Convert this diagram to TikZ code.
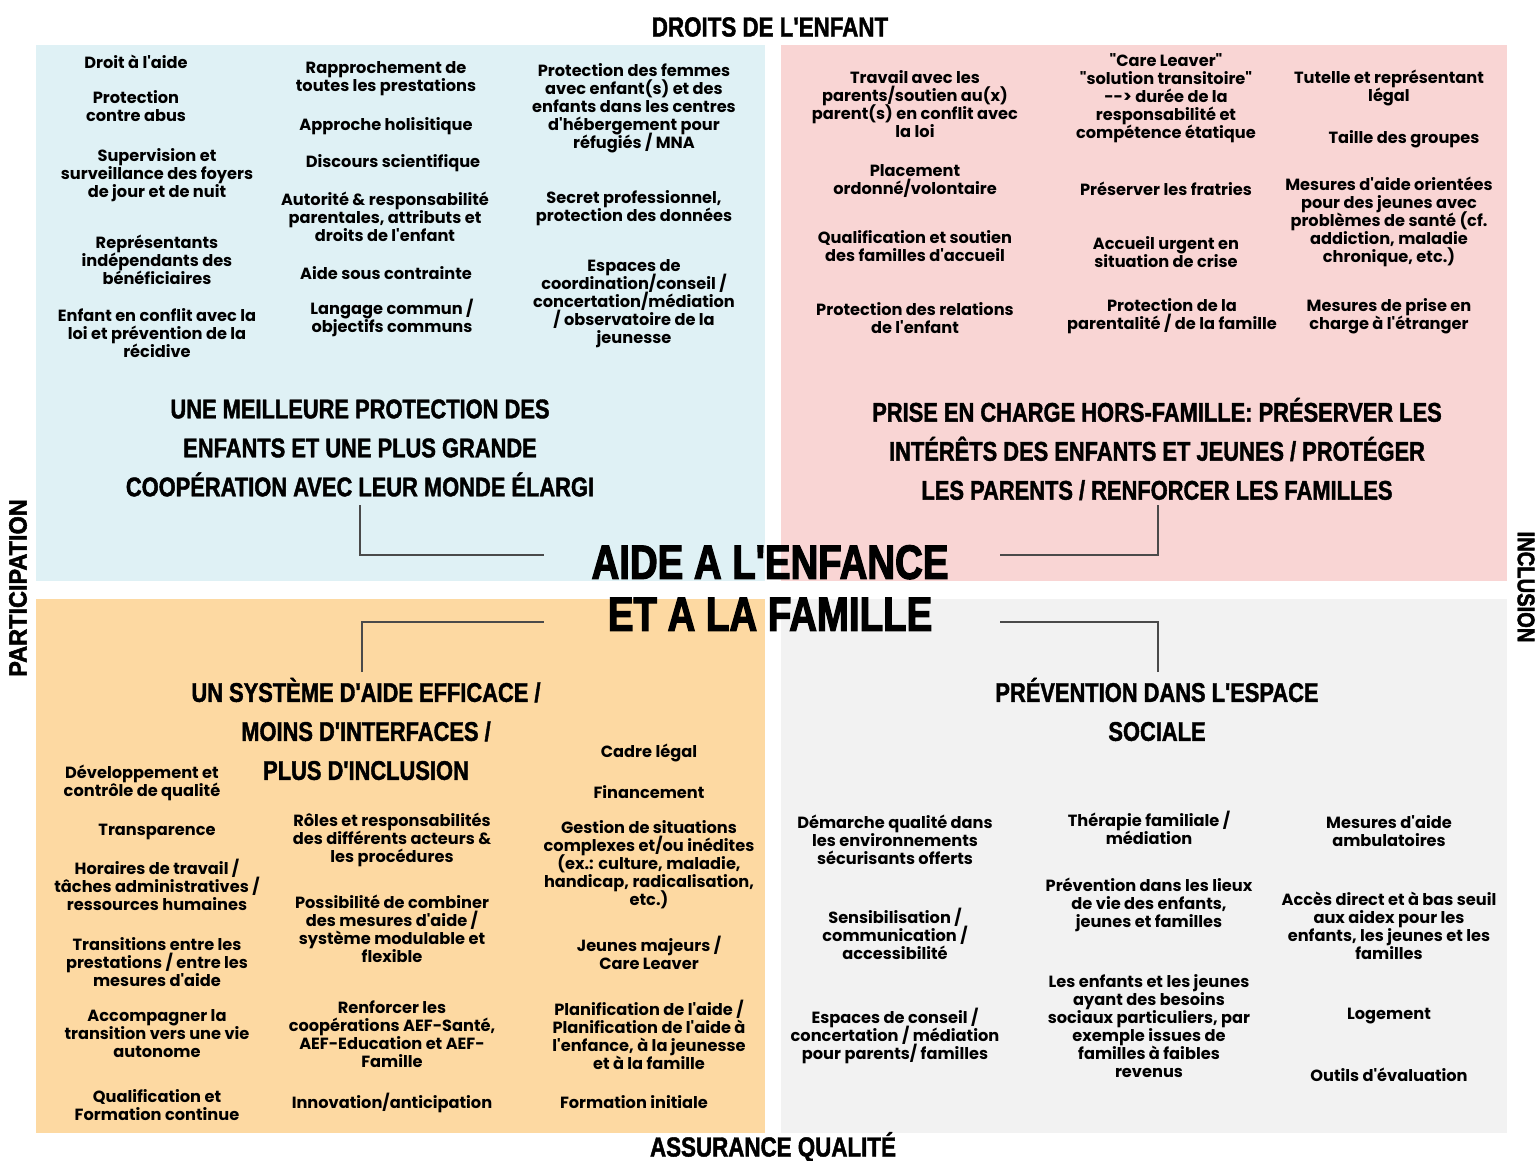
\documentclass[tikz,border=0pt]{standalone}
\usepackage{fontspec}
\setmainfont{Poppins}[Ligatures=TeXOff]
\newfontfamily\dispfont{Liberation Sans}[Ligatures=TeXOff,FakeStretch=0.81,BoldFont={Liberation Sans Bold},BoldFeatures={FakeBold=1.5}]
\newfontfamily\titlefont{Liberation Sans}[Ligatures=TeXOff,FakeStretch=0.8,BoldFont={Liberation Sans Bold},BoldFeatures={FakeBold=2.5}]
\newfontfamily\sidefont{Liberation Sans}[Ligatures=TeXOff,FakeStretch=0.84,BoldFont={Liberation Sans Bold},BoldFeatures={FakeBold=2}]
\newfontfamily\partfont{Liberation Sans}[Ligatures=TeXOff,FakeStretch=0.94,BoldFont={Liberation Sans Bold},BoldFeatures={FakeBold=2}]
\newcommand\mytightlines{\lineskiplimit=-20pt\relax}
\definecolor{qblue}{HTML}{DFF1F5}
\definecolor{qpink}{HTML}{F9D5D4}
\definecolor{qorange}{HTML}{FDD9A2}
\definecolor{qgrey}{HTML}{F2F2F2}
\definecolor{linegray}{HTML}{4A4A4A}
\begin{document}
\begin{tikzpicture}[x=0.5pt,y=-0.5pt,
  txt/.style={align=center, inner sep=0pt, font=\bfseries\fontsize{8.1}{9}\selectfont\mytightlines},
  head/.style={align=center, inner sep=0pt, font=\dispfont\bfseries\fontsize{13.5}{19.5}\selectfont\mytightlines},
  ttl/.style={align=center, inner sep=0pt, font=\titlefont\bfseries\fontsize{24}{26}\selectfont\mytightlines},
  side/.style={inner sep=0pt, font=\dispfont\bfseries\fontsize{13.8}{15}\selectfont},
  vside/.style={inner sep=0pt, font=\sidefont\bfseries\fontsize{12}{14}\selectfont},
  pside/.style={inner sep=0pt, font=\partfont\bfseries\fontsize{12.5}{14}\selectfont},
  conn/.style={draw=linegray, line width=1pt}]
\useasboundingbox (0,0) rectangle (1539,1161);
\fill[white] (0,0) rectangle (1539,1161);
% quadrants
\fill[qblue] (36,45) rectangle (765,581);
\fill[qpink] (781,45) rectangle (1507,581);
\fill[qorange] (36,599) rectangle (765,1133);
\fill[qgrey] (781,599) rectangle (1507,1133);
% side labels
\node[side] (droits) at (770,27) {DROITS DE L'ENFANT};
\node[side] (assur) at (773,1147) {ASSURANCE QUALITÉ};
\node[pside, rotate=90] (partic) at (18,588) {PARTICIPATION};
\node[vside, rotate=-90] (inclus) at (1526,587) {INCLUSION};
% title
\node[ttl] (title) at (770,588) {AIDE A L'ENFANCE\\ET A LA FAMILLE};
% headings
\node[head] (htl) at (360,448) {UNE MEILLEURE PROTECTION DES\\ENFANTS ET UNE PLUS GRANDE\\COOPÉRATION AVEC LEUR MONDE ÉLARGI};
\node[head] (htr) at (1157,449) {PRISE EN CHARGE HORS-FAMILLE: PRÉSERVER LES\\INTÉRÊTS DES ENFANTS ET JEUNES / PROTÉGER\\LES PARENTS / RENFORCER LES FAMILLES};
\node[head] (hbl) at (366,729) {UN SYSTÈME D'AIDE EFFICACE /\\MOINS D'INTERFACES /\\PLUS D'INCLUSION};
\node[head] (hbr) at (1157,709.5) {PRÉVENTION DANS L'ESPACE\\SOCIALE};
% connectors
\coordinate (tlA) at (360,505); \coordinate (tlB) at (544,555);
\coordinate (trA) at (1158,505); \coordinate (trB) at (1000,555);
\coordinate (blA) at (362,672); \coordinate (blB) at (544,622);
\coordinate (brA) at (1158,672); \coordinate (brB) at (1000,622);
\draw[conn] (tlA) |- (tlB);
\draw[conn] (trA) |- (trB);
\draw[conn] (blA) |- (blB);
\draw[conn] (brA) |- (brB);
% top-left items
\node[txt] (a1) at (136,62) {Droit à l'aide};
\node[txt] (a2) at (136,106) {Protection\\contre abus};
\node[txt] (a3) at (157,175) {Supervision et\\surveillance des foyers\\de jour et de nuit};
\node[txt] (a4) at (157,260) {Représentants\\indépendants des\\bénéficiaires};
\node[txt] (a5) at (157,333) {Enfant en conflit avec la\\loi et prévention de la\\récidive};
\node[txt] (a6) at (386,79) {Rapprochement de\\toutes les prestations};
\node[txt] (a7) at (386,126) {Approche holisitique};
\node[txt] (a8) at (393,163) {Discours scientifique};
\node[txt] (a9) at (385,217) {Autorité \& responsabilité\\parentales, attributs et\\droits de l'enfant};
\node[txt] (a10) at (386,273) {Aide sous contrainte};
\node[txt] (a11) at (392,318) {Langage commun /\\objectifs communs};
\node[txt] (a12) at (634,108) {Protection des femmes\\avec enfant(s) et des\\enfants dans les centres\\d'hébergement pour\\réfugiés / MNA};
\node[txt] (a13) at (634,208) {Secret professionnel,\\protection des données};
\node[txt] (a14) at (634,304) {Espaces de\\coordination/conseil /\\concertation/médiation\\/ observatoire de la\\jeunesse};
% top-right items
\node[txt] (b1) at (915,104) {Travail avec les\\parents/soutien au(x)\\parent(s) en conflit avec\\la loi};
\node[txt] (b2) at (915,181) {Placement\\ordonné/volontaire};
\node[txt] (b3) at (915,246) {Qualification et soutien\\des familles d'accueil};
\node[txt] (b4) at (915,318) {Protection des relations\\de l'enfant};
\node[txt] (b5) at (1166,98) {"Care Leaver"\\"solution transitoire"\\--> durée de la\\responsabilité et\\compétence étatique};
\node[txt] (b6) at (1166,189) {Préserver les fratries};
\node[txt] (b7) at (1166,252) {Accueil urgent en\\situation de crise};
\node[txt] (b8) at (1172,316) {Protection de la\\parentalité / de la famille};
\node[txt] (b9) at (1389,88) {Tutelle et représentant\\légal};
\node[txt] (b10) at (1404,139) {Taille des groupes};
\node[txt] (b11) at (1389,222) {Mesures d'aide orientées\\pour des jeunes avec\\problèmes de santé (cf.\\addiction, maladie\\chronique, etc.)};
\node[txt] (b12) at (1389,316) {Mesures de prise en\\charge à l'étranger};
% bottom-left items
\node[txt] (c1) at (142,783) {Développement et\\contrôle de qualité};
\node[txt] (c2) at (157,832) {Transparence};
\node[txt] (c3) at (157,885) {Horaires de travail /\\tâches administratives /\\ressources humaines};
\node[txt] (c4) at (157,962) {Transitions entre les\\prestations / entre les\\mesures d'aide};
\node[txt] (c5) at (157,1034) {Accompagner la\\transition vers une vie\\autonome};
\node[txt] (c6) at (157,1105) {Qualification et\\Formation continue};
\node[txt] (c7) at (392,840) {Rôles et responsabilités\\des différents acteurs \&\\les procédures};
\node[txt] (c8) at (392,929) {Possibilité de combiner\\des mesures d'aide /\\système modulable et\\flexible};
\node[txt] (c9) at (392,1034) {Renforcer les\\coopérations AEF-Santé,\\AEF-Education et AEF-\\Famille};
\node[txt] (c10) at (392,1103) {Innovation/anticipation};
\node[txt] (c11) at (649,753) {Cadre légal};
\node[txt] (c12) at (649,792) {Financement};
\node[txt] (c13) at (649,865) {Gestion de situations\\complexes et/ou inédites\\(ex.: culture, maladie,\\handicap, radicalisation,\\etc.)};
\node[txt] (c14) at (649,953) {Jeunes majeurs /\\Care Leaver};
\node[txt] (c15) at (649,1035) {Planification de l'aide /\\Planification de l'aide à\\l'enfance, à la jeunesse\\et à la famille};
\node[txt] (c16) at (634,1102) {Formation initiale};
% bottom-right items
\node[txt] (d1) at (895,840) {Démarche qualité dans\\les environnements\\sécurisants offerts};
\node[txt] (d2) at (895,934) {Sensibilisation /\\communication /\\accessibilité};
\node[txt] (d3) at (895,1036) {Espaces de conseil /\\concertation / médiation\\pour parents/ familles};
\node[txt] (d4) at (1149,828) {Thérapie familiale /\\médiation};
\node[txt] (d5) at (1149,905) {Prévention dans les lieux\\de vie des enfants,\\jeunes et familles};
\node[txt] (d6) at (1149,1026) {Les enfants et les jeunes\\ayant des besoins\\sociaux particuliers, par\\exemple issues de\\familles à faibles\\revenus};
\node[txt] (d7) at (1389,831) {Mesures d'aide\\ambulatoires};
\node[txt] (d8) at (1389,926) {Accès direct et à bas seuil\\aux aidex pour les\\enfants, les jeunes et les\\familles};
\node[txt] (d9) at (1389,1016) {Logement};
\node[txt] (d10) at (1389,1075) {Outils d'évaluation};
\end{tikzpicture}
\end{document}
